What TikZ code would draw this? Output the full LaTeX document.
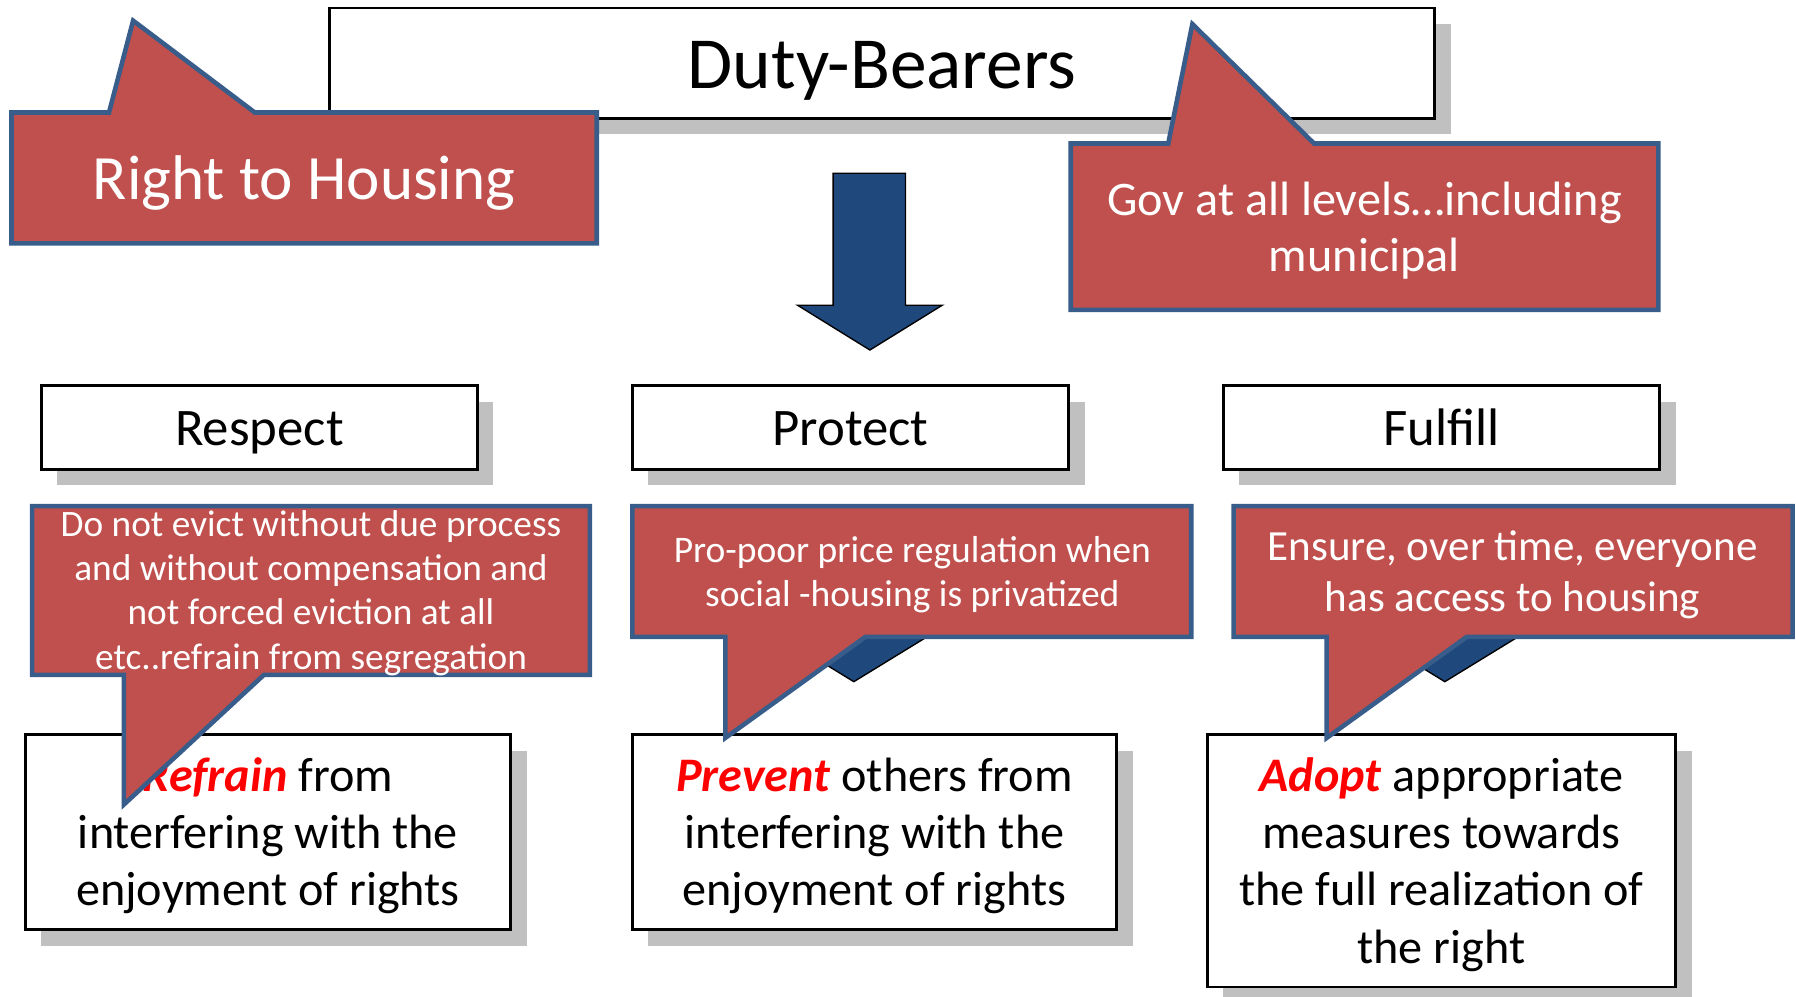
\documentclass[tikz,border=0pt]{standalone}
\usepackage{fontspec}
\setmainfont{Carlito}
\usepackage{xcolor}
\usetikzlibrary{shadows}
\definecolor{calloutred}{RGB}{192,80,77}
\definecolor{calloutblue}{RGB}{56,93,138}
\definecolor{arrowblue}{RGB}{31,73,125}
\definecolor{shadowgray}{RGB}{192,192,192}
\newcommand{\tstrut}{\rule{0pt}{0.952em}}
\newcommand{\bstrut}{\rule[-0.269em]{0pt}{0pt}}

\begin{document}
\begin{tikzpicture}[x=1pt, y=-1pt,
        whitebox/.style={draw=black, line width=2.5pt, fill=white, inner sep=0pt, align=center,
            drop shadow={shadow xshift=14pt, shadow yshift=-14pt, fill=shadowgray, opacity=1}},
        callout/.style={fill=calloutred, draw=calloutblue, line width=4pt, line join=miter},
        callouttext/.style={text=white, align=center, inner sep=0pt},
        downarrow/.style={fill=arrowblue, draw=black, line width=1.2pt, line join=miter}]
            \useasboundingbox (0,0) rectangle (1565,868);

            \node[whitebox, minimum width=963pt, minimum height=96pt, font=\fontsize{64}{77}\selectfont] at (768.5, 55)   (duty) {\tstrut Duty-Bearers\bstrut};

            \draw[downarrow] (726,151) -- (789,151) -- (789,266) -- (821,266) -- (758,305) -- (695,266) -- (726,266) -- cycle;

            \node[whitebox, minimum width=380pt, minimum height=73pt, font=\fontsize{46}{55}\selectfont] at (226, 372.5)   (respect) {\tstrut Respect\bstrut};
            \node[whitebox, minimum width=380pt, minimum height=73pt, font=\fontsize{46}{55}\selectfont] at (741, 372.5)   (protect) {\tstrut Protect\bstrut};
            \node[whitebox, minimum width=380pt, minimum height=73pt, font=\fontsize{46}{55}\selectfont] at (1256, 372.5)   (fulfill) {\tstrut Fulfill\bstrut};

            \draw[downarrow] (713,440) -- (775,440) -- (775,556) -- (806,556) -- (744,594) -- (682,556) -- (713,556) -- cycle;
            \draw[downarrow] (1228,440) -- (1290,440) -- (1290,556) -- (1321,556) -- (1259,594) -- (1197,556) -- (1228,556) -- cycle;

            \node[whitebox, minimum width=423pt, minimum height=170pt, font=\fontsize{42}{50}\selectfont] at (233.5, 725)   (refrain) {\tstrut\textcolor{red}{\textbf{\textit{Refrain}}} from\\interfering with the\\enjoyment of rights\bstrut};
            \node[whitebox, minimum width=422pt, minimum height=170pt, font=\fontsize{42}{50}\selectfont] at (762, 725)   (prevent) {\tstrut\textcolor{red}{\textbf{\textit{Prevent}}} others from\\interfering with the\\enjoyment of rights\bstrut};
            \node[whitebox, minimum width=408pt, minimum height=220pt, font=\fontsize{42}{50}\selectfont] at (1256, 750)   (adopt) {\tstrut\textcolor{red}{\textbf{\textit{Adopt}}} appropriate\\measures towards\\the full realization of\\the right\bstrut};

            \draw[callout] (10,98) -- (95,98) -- (116,18) -- (222,98) -- (520,98) -- (520,212) -- (10,212) -- cycle;
            \node[callouttext, font=\fontsize{55}{66}\selectfont] at (265, 155)   (housing) {\tstrut Right to Housing\bstrut};

            \draw[callout] (933,125) -- (1018,125) -- (1039,21) -- (1145,125) -- (1445,125) -- (1445,270) -- (933,270) -- cycle;
            \node[callouttext, font=\fontsize{42}{49}\selectfont] at (1189, 198)   (gov) {\tstrut Gov at all levels…including\\municipal\bstrut};

            \draw[callout] (28,441) -- (514,441) -- (514,588) -- (230,588) -- (108,701) -- (108,588) -- (28,588) -- cycle;
            \node[callouttext, font=\fontsize{32.5}{38.7}\selectfont] at (271, 514)   (evict) {\tstrut Do not evict without due process\\and without compensation and\\not forced eviction at all\\etc..refrain from segregation\bstrut};

            \draw[callout] (551,441) -- (1038,441) -- (1038,555) -- (754,555) -- (632,643) -- (632,555) -- (551,555) -- cycle;
            \node[callouttext, font=\fontsize{32.7}{38}\selectfont] at (795, 498)   (price) {\tstrut Pro-poor price regulation when\\social -housing is privatized\bstrut};

            \draw[callout] (1075,441) -- (1562,441) -- (1562,555) -- (1278,555) -- (1156,643) -- (1156,555) -- (1075,555) -- cycle;
            \node[callouttext, font=\fontsize{37.5}{44}\selectfont] at (1318, 498)   (access) {\tstrut Ensure, over time, everyone\\has access to housing\bstrut};
        \end{tikzpicture}
\end{document}
